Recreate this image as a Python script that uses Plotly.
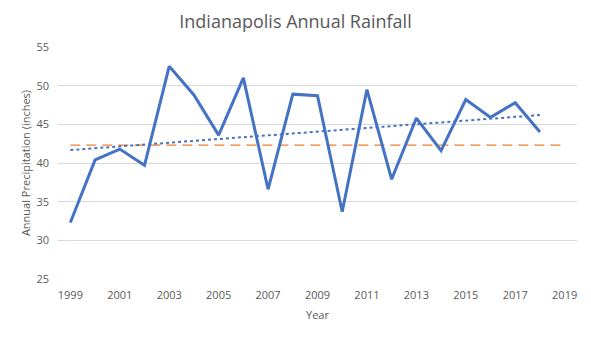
import numpy as np
import plotly.graph_objects as go

years = list(range(1999, 2019))
rainfall = [32.3, 40.4, 41.8, 39.7, 52.5, 48.8, 43.6, 51.0, 36.6, 48.9,
            48.7, 33.7, 49.5, 37.9, 45.8, 41.6, 48.2, 45.9, 47.8, 44.0]
normal_years = [1999, 2019]
normal_value = 42.3
x_ticks = list(range(1999, 2020, 2))
y_ticks = [25, 30, 35, 40, 45, 50, 55]

slope, intercept = np.polyfit(years, rainfall, 1)
trend = [slope * y + intercept for y in years]

fig = go.Figure()
fig.add_trace(go.Scatter(x=normal_years, y=[normal_value] * len(normal_years), mode="lines",
                         line=dict(color="#ED7D31", width=1.3, dash="10px,6px"), hoverinfo="skip"))
fig.add_trace(go.Scatter(x=years, y=trend, mode="lines",
                         line=dict(color="#4472C4", width=2, dash="dot")))
fig.add_trace(go.Scatter(x=years, y=rainfall, mode="lines",
                         line=dict(color="#4472C4", width=3)))

font_fam = "Open Sans, Noto Sans, sans-serif"
fig.update_layout(
    width=591, height=339,
    margin=dict(l=58, r=14, t=47, b=60),
    paper_bgcolor="white", plot_bgcolor="white",
    showlegend=False,
    title=dict(text="Indianapolis Annual Rainfall", x=0.5, xanchor="center",
               y=1 - 22 / 339, yanchor="middle",
               font=dict(family=font_fam, size=18, color="#595959")),
    font=dict(family=font_fam, size=11, color="#595959"),
)
fig.update_xaxes(range=[1998.5, 2019.5], tickvals=x_ticks, ticktext=[str(t) for t in x_ticks],
                 showgrid=False, zeroline=False, showline=False,
                 ticks="", ticklen=0, ticklabelstandoff=8,
                 title=dict(text="Year", font=dict(size=11, color="#595959"), standoff=10),
                 tickfont=dict(size=11, color="#595959"))
fig.update_yaxes(range=[25, 55], tickvals=y_ticks, showgrid=True, gridcolor="#D9D9D9", gridwidth=1,
                 zeroline=False, showline=False, ticks="", ticklabelstandoff=8,
                 title=dict(text="Annual Precipitation (inches)", font=dict(size=11, color="#595959"), standoff=3),
                 tickfont=dict(size=11, color="#595959"))

fig.write_html("out.html")
